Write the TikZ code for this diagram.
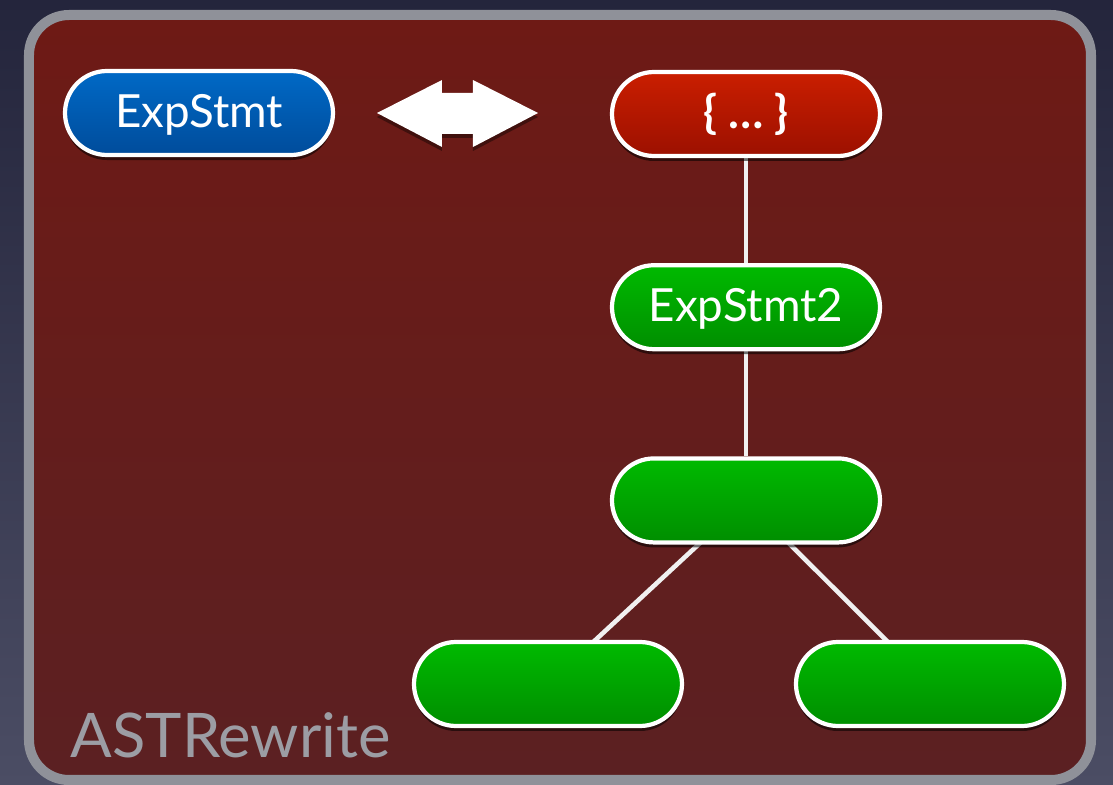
\documentclass[tikz,border=0pt]{standalone}
\usepackage{fontspec}
\setmainfont{Lato}
\usetikzlibrary{positioning,shadows,backgrounds}

\definecolor{navytop}{HTML}{24253C}
\definecolor{navybot}{HTML}{4B4D64}
\definecolor{framegray}{HTML}{8F9199}
\definecolor{redtop}{HTML}{6E1A15}
\definecolor{redbot}{HTML}{5B2022}
\definecolor{bluetop}{HTML}{0069C6}
\definecolor{bluebot}{HTML}{004C9B}
\definecolor{blocktop}{HTML}{CA1E00}
\definecolor{blockbot}{HTML}{9C1000}
\definecolor{greentop}{HTML}{00BA00}
\definecolor{greenbot}{HTML}{008E00}
\definecolor{labelgray}{HTML}{9C9DA4}

\tikzset{
	box/.style={rectangle, rounded corners=0.42cm, draw=white, line width=1.2pt,
		minimum width=2.68cm, minimum height=0.84cm, text=white,
		text height=1.05em, text depth=0.25em,
		font=\fontsize{13}{15}\selectfont,
		drop shadow={shadow xshift=0pt, shadow yshift=-0.05cm, opacity=0.55, fill=black}},
	bluebox/.style={box, top color=bluetop, bottom color=bluebot},
	redbox/.style={box, top color=blocktop, bottom color=blockbot, font=\fontsize{13}{15}\selectfont\bfseries},
	greenbox/.style={box, top color=greentop, bottom color=greenbot},
	link/.style={draw=white!88!gray, line width=1.3pt}
}

\begin{document}
\begin{tikzpicture}

		% background and frame
		\begin{pgfonlayer}{background}
			\fill[top color=navytop, bottom color=navybot] (0,0) rectangle (11.13,-7.85);
			\draw[draw=framegray, line width=0.1cm, rounded corners=0.4cm,
				top color=redtop, bottom color=redbot] (0.29,-0.15) rectangle (10.91,-7.80);
		\end{pgfonlayer}

		\node[bluebox] (stmt) at (1.99,-1.13) {ExpStmt};

		% exchange arrow
		\fill[white, drop shadow={shadow xshift=0pt, shadow yshift=-0.04cm, opacity=0.4, fill=black}]
			(3.77,-1.13) -- (4.42,-0.80) -- (4.42,-0.93) -- (4.73,-0.93) -- (4.73,-0.80)
			-- (5.38,-1.13) -- (4.73,-1.47) -- (4.73,-1.34) -- (4.42,-1.34) -- (4.42,-1.47) -- cycle;

		\node[redbox] (block) at (7.46,-1.14) {\{ … \}};
		\node[greenbox, below=1.05cm of block] (stmt2) {ExpStmt2};
		\node[greenbox, below=1.05cm of stmt2] (expr) {};
		\node[greenbox] (lhs) at (5.48,-6.84) {};
		\node[greenbox] (rhs) at (9.30,-6.84) {};

		\node[anchor=base west, inner sep=0pt, text=labelgray, font=\fontsize{17.5}{20}\selectfont] (title) at (0.70,-7.57) {ASTRewrite};

		\begin{pgfonlayer}{background}
			\draw[link] (block) -- (stmt2);
			\draw[link] (stmt2) -- (expr);
			\draw[link] (expr.center) -- (lhs.center);
			\draw[link] (expr.center) -- (rhs.center);
		\end{pgfonlayer}

\end{tikzpicture}
\end{document}
